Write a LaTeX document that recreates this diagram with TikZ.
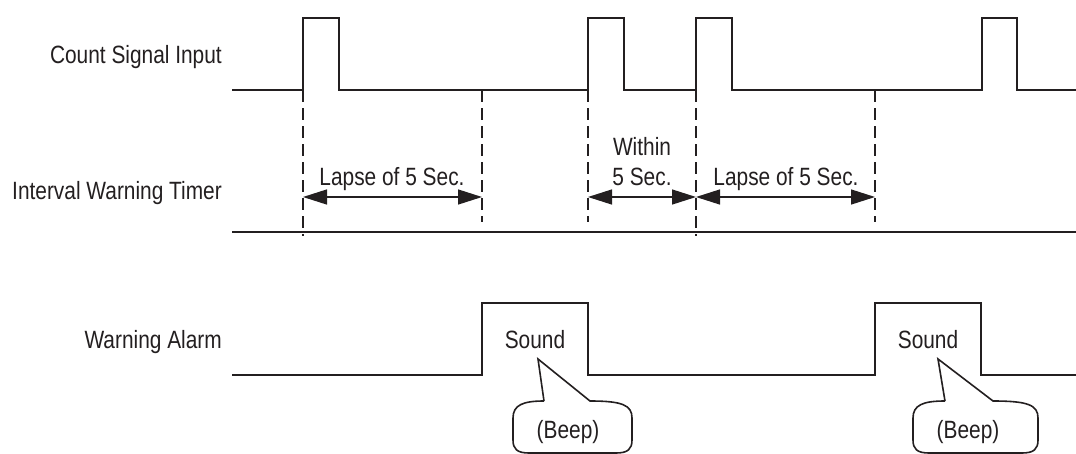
\documentclass[tikz,border=0pt]{standalone}
\usepackage{fontspec}
\setmainfont{Liberation Sans}[FakeStretch=0.835]
\usepackage{xcolor}
\usetikzlibrary{arrows.meta}
\definecolor{cINK}{HTML}{231F20}

\begin{document}
\begin{tikzpicture}[
  x=1pt, y=-1pt,
  font=\fontsize{25}{28}\selectfont,
  signal/.style={draw=cINK, line width=1.6pt, line join=miter},
  guide/.style={draw=cINK, line width=1.3pt, dash pattern=on 12pt off 6pt},
  span/.style={draw=cINK, line width=1.4pt,
    {Triangle[length=24pt, width=15pt]}-{Triangle[length=24pt, width=15pt]}},
  lbl/.style={anchor=base east, text=cINK, inner sep=0pt},
  txt/.style={anchor=base, text=cINK, inner sep=0pt},
]
\useasboundingbox (0,0) rectangle (1076,453);

% row labels
\node[lbl] (csi) at (222,63)  {Count Signal Input};
\node[lbl] (iwt) at (222,199) {Interval Warning Timer};
\node[lbl] (wal) at (222,348) {Warning Alarm};

% time marks on the count line
\coordinate (t1) at (303,90);
\coordinate (t2) at (482,90);
\coordinate (t3) at (588,90);
\coordinate (t4) at (696,90);
\coordinate (t5) at (875,90);

% count signal
\draw[signal] (232,90) -- (t1) -- (303,18) -- (339,18) -- (339,90)
  -- (t3) -- (588,18) -- (624,18) -- (624,90)
  -- (t4) -- (696,18) -- (732,18) -- (732,90)
  -- (982,90) -- (982,18) -- (1017,18) -- (1017,90) -- (1076,90);

% timer
\draw[signal] (232,232) -- (1076,232);
\draw[guide] (t1) -- ++(0,146);
\draw[guide] (t2) -- ++(0,132);
\draw[guide] (t3) -- ++(0,132);
\draw[guide] (t4) -- ++(0,146);
\draw[guide] (t5) -- ++(0,132);

\draw[span] (t1 |- 0,197) -- (t2 |- 0,197);
\draw[span] (t3 |- 0,197) -- (t4 |- 0,197);
\draw[span] (t4 |- 0,197) -- (t5 |- 0,197);

\node[txt] (lapse1) at (392,185) {Lapse of 5 Sec.};
\node[txt] (within) at (642,155) {Within};
\node[txt] (within2) at (642,185) {5 Sec.};
\node[txt] (lapse2) at (786,185) {Lapse of 5 Sec.};

% alarm
\draw[signal] (232,375) -- (482,375) -- (482,303) -- (588,303) -- (588,375)
  -- (875,375) -- (875,303) -- (981,303) -- (981,375) -- (1076,375);

\node[txt] (sound1) at (535,348) {Sound};
\node[txt] (sound2) at (928,348) {Sound};

% speech bubbles
\foreach \l/\r/\t/\a/\b in {513/632/538/544/590, 913/1038/938/945/993}
  \draw[signal] (\a,401) -- (\t,359) -- (\b,401)
    .. controls (\r-10,401) and (\r,405) .. (\r,418) -- (\r,440)
    .. controls (\r,449) and (\r-4,453) .. (\r-16,453) -- (\l+16,453)
    .. controls (\l+4,453) and (\l,449) .. (\l,440) -- (\l,418)
    .. controls (\l,405) and (\l+10,401) .. (\a,401);

\node[txt] (beep1) at (568,438) {(Beep)};
\node[txt] (beep2) at (968,438) {(Beep)};
\end{tikzpicture}
\end{document}
